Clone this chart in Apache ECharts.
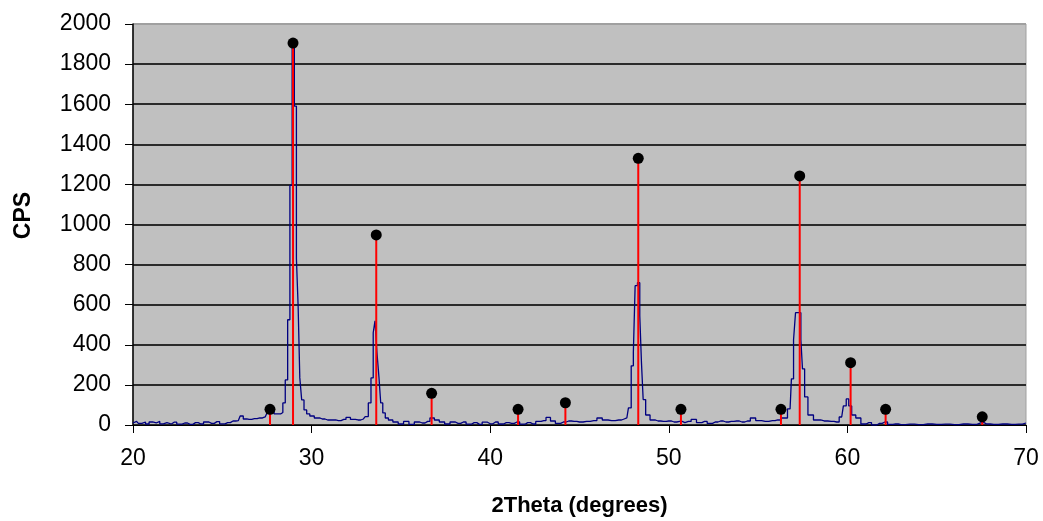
<!DOCTYPE html>
<html>
<head>
<meta charset="utf-8">
<script src="https://cdn.jsdelivr.net/npm/echarts@6/dist/echarts.min.js"></script>
<style>
  html, body { margin: 0; padding: 0; background: #fff; }
  #main { width: 1043px; height: 521px; }
</style>
</head>
<body>
<div id="main"></div>
<script>
// measured XRD trace (2theta, cps)
const traceX = [
  20.0, 20.2, 20.4, 20.6, 20.8, 21.0, 21.2, 21.4, 21.6, 21.8, 22.0, 22.3, 22.6, 22.9, 23.2, 23.5, 23.8, 24.1, 24.4, 24.7,
  25.0, 25.3, 25.6, 25.9, 26.1, 26.25, 26.5, 26.8, 27.1, 27.4, 27.6, 27.8, 28.0, 28.2, 28.33, 28.45, 28.6, 28.72, 28.85, 28.97,
  29.1, 29.2, 29.29, 29.39, 29.5, 29.65, 29.8, 30.0, 30.3, 30.6, 30.9, 31.2, 31.5, 31.8, 32.05, 32.3, 32.6, 32.9, 33.1, 33.25,
  33.4, 33.5, 33.6, 33.72, 33.82, 33.92, 34.05, 34.2, 34.4, 34.7, 35.0, 35.3, 35.6, 35.9, 36.2, 36.5, 36.75, 37.0, 37.3, 37.6,
  37.9, 38.2, 38.5, 38.8, 39.1, 39.4, 39.7, 40.0, 40.3, 40.6, 40.9, 41.2, 41.5, 41.8, 42.1, 42.4, 42.7, 43.0, 43.25, 43.5,
  43.8, 44.1, 44.4, 44.7, 45.0, 45.4, 45.8, 46.15, 46.4, 46.8, 47.2, 47.5, 47.65, 47.83, 47.96, 48.07, 48.16, 48.33, 48.42, 48.52,
  48.61, 48.8, 49.1, 49.4, 49.7, 50.0, 50.3, 50.6, 50.9, 51.1, 51.4, 51.7, 52.0, 52.3, 52.6, 52.9, 53.2, 53.5, 53.8, 54.1,
  54.4, 54.73, 55.0, 55.4, 55.8, 56.1, 56.5, 56.79, 56.94, 57.03, 57.16, 57.35, 57.44, 57.53, 57.68, 57.9, 58.3, 58.7, 59.1, 59.4,
  59.68, 59.87, 60.0, 60.15, 60.33, 60.61, 60.9, 61.2, 61.5, 61.8, 62.1, 62.4, 62.7, 63.0, 63.5, 64.0, 64.5, 65.0, 65.5, 66.0,
  66.5, 67.0, 67.5, 67.8, 68.2, 68.7, 69.2, 69.6, 70.0
];
const traceY = [
  10, 18, 8, 15, 5, 15, 10, 18, 6, 12, 5, 14, 4, 10, 3, 12, 5, 15, 8, 17,
  6, 12, 20, 22, 45, 30, 28, 32, 35, 40, 60, 70, 55, 55, 62, 110, 225, 525, 1195, 1880,
  1590, 830, 595, 235, 125, 75, 55, 45, 35, 30, 25, 25, 22, 28, 38, 28, 25, 30, 42, 110,
  235, 460, 520, 360, 240, 110, 60, 35, 25, 15, 5, 18, 3, 15, 10, 18, 35, 25, 15, 5,
  15, 8, 15, 4, 12, 3, 14, 6, 15, 5, 12, 8, 15, 4, 12, 5, 18, 22, 38, 20,
  8, 15, 20, 18, 15, 18, 22, 35, 25, 22, 25, 30, 35, 85, 295, 360, 695, 710, 545, 310,
  127, 50, 25, 20, 18, 20, 15, 18, 12, 18, 28, 12, 18, 8, 15, 20, 15, 18, 20, 15,
  20, 35, 22, 18, 22, 25, 35, 80, 230, 425, 560, 560, 425, 280, 140, 50, 25, 20, 18, 15,
  40, 95, 130, 95, 50, 35, 5, 12, 0, 8, 15, 3, 5, 2, 4, 2, 5, 3, 4, 2,
  5, 3, 12, 5, 3, 5, 3, 4, 10
];

// reference stick pattern
const stickX = [27.67, 28.96, 33.62, 36.72, 41.56, 44.21, 48.29, 50.68, 56.28, 57.33, 60.18, 62.14, 67.55];
const stickY = [78, 1905, 948, 158, 78, 111, 1330, 78, 78, 1242, 311, 78, 41];

const yTicks = [0, 200, 400, 600, 800, 1000, 1200, 1400, 1600, 1800, 2000];

const trace = traceX.map((x, i) => [x, traceY[i]]);
const sticks = stickX.map((x, i) => [x, stickY[i]]);

const font = "'Liberation Sans', Arial, sans-serif";

let myChart = echarts.init(document.getElementById("main"));
let option = {
  animation: false,
  grid: {
    left: 133,
    right: 17,
    top: 24,
    bottom: 96,
    outerBoundsMode: "none",
    show: true,
    backgroundColor: "#c0c0c0",
    borderColor: "#a0a0a0",
    borderWidth: 1,
  },
  xAxis: {
    type: "value",
    min: 20,
    max: 70,
    interval: 10,
    name: "2Theta (degrees)",
    nameLocation: "middle",
    nameGap: 70,
    nameTextStyle: { fontFamily: font, fontSize: 22, fontWeight: "bold", color: "#000" },
    axisLine: { lineStyle: { color: "#000", width: 1 } },
    axisTick: { show: true, length: 8, lineStyle: { color: "#000" } },
    axisLabel: { fontFamily: font, fontSize: 23, color: "#000", margin: 22 },
    splitLine: { show: false },
  },
  yAxis: {
    type: "value",
    min: yTicks[0],
    max: yTicks[yTicks.length - 1],
    interval: 200,
    name: "CPS",
    nameLocation: "middle",
    nameGap: 98,
    nameRotate: 90,
    nameTextStyle: { fontFamily: font, fontSize: 23, fontWeight: "bold", color: "#000", padding: [0, 0, 0, 18] },
    axisLine: { show: true, lineStyle: { color: "#000", width: 1.5 } },
    axisTick: { show: true, length: 8, lineStyle: { color: "#000" } },
    axisLabel: { fontFamily: font, fontSize: 23, color: "#000", margin: 22, formatter: (v) => String(v) },
    splitLine: {
      show: true,
      lineStyle: {
        color: ["#2a2a2a", "#2a2a2a", "#2a2a2a", "#2a2a2a", "#2a2a2a", "#2a2a2a",
                "#2a2a2a", "#2a2a2a", "#2a2a2a", "#2a2a2a", "#a0a0a0"],
        width: 2,
      },
    },
  },
  series: [
    {
      type: "line",
      data: trace,
      step: "middle",
      showSymbol: false,
      lineStyle: { color: "#000080", width: 1.3 },
      z: 2,
    },
    {
      type: "custom",
      data: sticks,
      encode: { x: 0, y: 1 },
      renderItem(params, api) {
        const p0 = api.coord([api.value(0), 0]);
        const p1 = api.coord([api.value(0), api.value(1)]);
        return {
          type: "line",
          shape: { x1: p0[0], y1: p0[1], x2: p1[0], y2: p1[1] },
          style: { stroke: "#ff0000", lineWidth: 2 },
        };
      },
      z: 3,
    },
    {
      type: "scatter",
      data: sticks,
      symbol: "circle",
      symbolSize: 11,
      itemStyle: { color: "#000", opacity: 1 },
      z: 4,
    },
  ],
};
myChart.setOption(option);
</script>
</body>
</html>
